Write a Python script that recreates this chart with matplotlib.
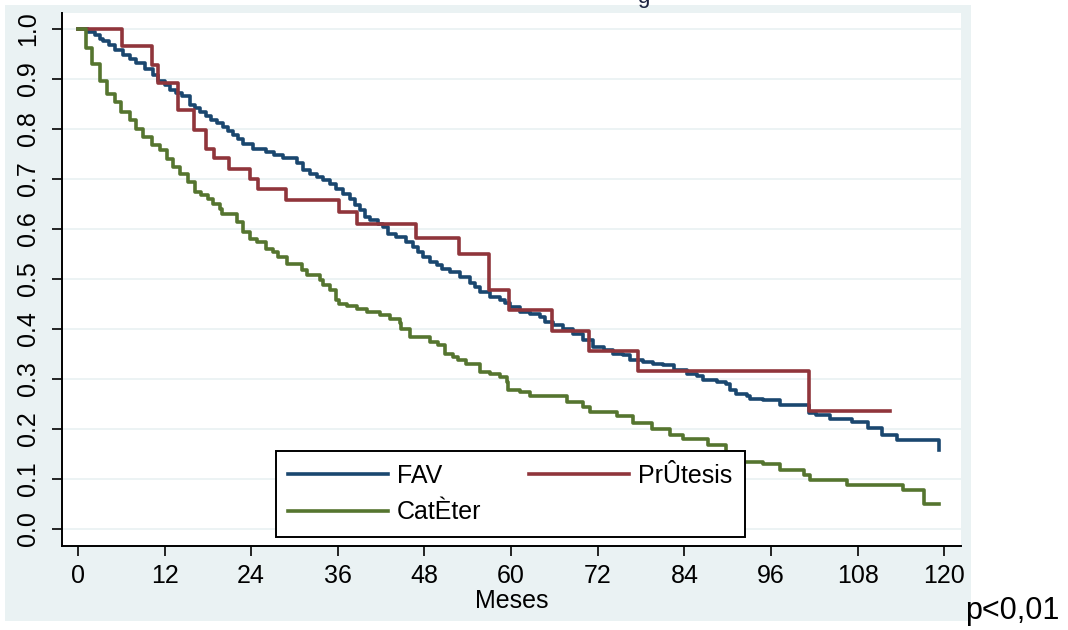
import numpy as np
import matplotlib
matplotlib.use("Agg")
import matplotlib.pyplot as plt
from matplotlib.patches import Rectangle

plt.rcParams['font.family'] = ['Liberation Sans', 'DejaVu Sans']

# Kaplan-Meier steps: (month, survival after the step)
fav_t = [0, 1.4, 2.4, 3.0, 3.5, 4.3, 5.1, 6.3, 7.2, 8.1, 9.3, 10.4, 11.1, 12.0, 12.7,
         13.6, 14.4, 15.5, 16.2, 16.9, 17.7, 18.5, 19.3, 20.1, 20.8, 21.5, 22.2, 22.9,
         24.3, 26.1, 27.2, 28.4, 30.4, 31.2, 32.2, 33.1, 34.0, 34.9, 35.8, 36.7, 37.7,
         38.4, 39.1, 39.8, 40.4, 41.6, 42.3, 43.0, 44.1, 45.5, 46.4, 47.1, 47.8, 48.8,
         49.7, 50.4, 51.5, 52.9, 54.3, 55.0, 55.7, 57.1, 58.4, 59.1, 59.8, 61.2, 62.6,
         64.0, 64.7, 65.8, 67.2, 68.6, 70.0, 71.4, 72.8, 74.1, 75.5, 76.5, 78.3, 79.7,
         81.1, 82.5, 84.3, 85.7, 86.6, 88.5, 89.8, 90.3, 91.2, 92.6, 93.1, 94.9, 97.2,
         101.2, 102.2, 104.2, 107.2, 109.4, 111.3, 113.4, 119.3]
fav_s = [1.0, 0.995, 0.988, 0.981, 0.977, 0.968, 0.959, 0.948, 0.940, 0.933, 0.921, 0.908,
         0.897, 0.888, 0.878, 0.872, 0.866, 0.848, 0.842, 0.835, 0.826, 0.818, 0.812,
         0.805, 0.796, 0.788, 0.780, 0.771, 0.761, 0.755, 0.748, 0.743, 0.732, 0.718,
         0.711, 0.705, 0.698, 0.691, 0.681, 0.671, 0.661, 0.648, 0.638, 0.625, 0.618,
         0.611, 0.605, 0.591, 0.585, 0.575, 0.565, 0.555, 0.545, 0.535, 0.528, 0.521,
         0.515, 0.505, 0.493, 0.485, 0.475, 0.465, 0.458, 0.452, 0.445, 0.435, 0.431,
         0.425, 0.415, 0.408, 0.401, 0.391, 0.378, 0.365, 0.358, 0.351, 0.348, 0.338,
         0.335, 0.331, 0.328, 0.318, 0.311, 0.306, 0.298, 0.295, 0.291, 0.278, 0.271,
         0.266, 0.261, 0.258, 0.248, 0.233, 0.228, 0.221, 0.215, 0.203, 0.188, 0.178,
         0.158]

pro_t = [0, 6.1, 10.2, 11.1, 13.8, 16.1, 17.8, 18.8, 20.9, 23.9, 24.9, 28.8, 36.1, 38.7,
         46.8, 52.8, 57.0, 59.7, 65.7, 70.8, 77.5, 101.3, 112.4]
pro_s = [1.0, 0.967, 0.929, 0.893, 0.838, 0.798, 0.761, 0.743, 0.721, 0.701, 0.681, 0.658,
         0.635, 0.611, 0.583, 0.551, 0.478, 0.438, 0.397, 0.357, 0.317, 0.237, 0.237]

cat_t = [0, 1.1, 2.0, 3.05, 4.1, 5.1, 6.0, 7.2, 8.1, 9.0, 10.2, 11.4, 12.3, 13.2, 14.1,
         15.3, 16.2, 17.1, 18.0, 18.7, 19.7, 19.9, 22.0, 22.9, 23.8, 24.8, 26.1, 27.0,
         27.7, 28.9, 31.0, 31.7, 33.5, 34.0, 34.9, 35.8, 36.1, 37.2, 38.6, 40.0, 41.8,
         43.2, 44.6, 44.8, 46.0, 48.8, 49.9, 50.8, 52.0, 52.7, 53.8, 55.7, 57.1, 58.4,
         59.4, 59.6, 61.2, 62.6, 67.7, 70.0, 70.9, 74.6, 76.9, 79.5, 82.0, 83.8, 87.3,
         89.8, 92.1, 94.9, 97.2, 100.5, 101.4, 106.5, 114.3, 117.2, 119.2]
cat_s = [1.0, 0.963, 0.931, 0.896, 0.871, 0.855, 0.835, 0.818, 0.801, 0.785, 0.768, 0.758,
         0.741, 0.725, 0.711, 0.695, 0.675, 0.668, 0.661, 0.651, 0.641, 0.631, 0.615,
         0.595, 0.581, 0.575, 0.561, 0.555, 0.545, 0.531, 0.518, 0.508, 0.498, 0.488,
         0.478, 0.458, 0.451, 0.446, 0.441, 0.435, 0.428, 0.421, 0.412, 0.401, 0.385,
         0.375, 0.368, 0.351, 0.345, 0.338, 0.331, 0.315, 0.311, 0.305, 0.295, 0.278,
         0.275, 0.266, 0.255, 0.245, 0.235, 0.226, 0.212, 0.200, 0.188, 0.181, 0.169,
         0.155, 0.135, 0.130, 0.118, 0.108, 0.099, 0.088, 0.079, 0.051, 0.051]

labels = ["FAV", "PrÛtesis", "CatÈter"]
x_ticks = list(range(0, 121, 12))
y_ticks = [i / 10 for i in range(11)]

navy = "#1A476F"
maroon = "#90353B"
green = "#55752F"
bg = "#EAF2F3"
fs = 18

fig = plt.figure(figsize=(10.68, 6.30), dpi=100, facecolor="white")
fig.patches.append(Rectangle((5 / 1068, 9 / 630), 966 / 1068, 616 / 630,
                             transform=fig.transFigure, facecolor=bg,
                             edgecolor="none", zorder=-5))

ax = fig.add_axes([62 / 1068, 84 / 630, 899 / 1068, 533 / 630])
ax.set_zorder(2)
ax.set_facecolor("white")

for yv in y_ticks:
    ax.axhline(yv, color=bg, lw=1.3, zorder=1)

l_fav, = ax.step(fav_t, fav_s, where="post", color=navy, lw=2.6, zorder=3)
l_pro, = ax.step(pro_t, pro_s, where="post", color=maroon, lw=2.6, zorder=3)
l_cat, = ax.step(cat_t, cat_s, where="post", color=green, lw=2.6, zorder=3)

ax.set_xlim(-2.2, 122.3)
ax.set_ylim(-0.034, 1.032)
ax.set_xticks(x_ticks)
ax.set_xticklabels([str(x) for x in x_ticks], fontsize=fs)
ax.set_yticks(y_ticks)
ax.set_yticklabels([f"{y:.1f}" for y in y_ticks], fontsize=fs, rotation=90, va="center")
ax.tick_params(axis="x", length=7, width=1.2, pad=6)
ax.tick_params(axis="y", length=7, width=1.2, pad=9)
for s in ["top", "right"]:
    ax.spines[s].set_visible(False)
for s in ["left", "bottom"]:
    ax.spines[s].set_linewidth(1.4)
ax.set_xlabel("Meses", fontsize=fs, labelpad=1)

leg = ax.legend([l_fav, l_cat, l_pro], [labels[0], labels[2], labels[1]], ncol=2,
                loc="lower left", bbox_to_anchor=(0.238, 0.017), borderaxespad=0,
                fontsize=fs, frameon=True, fancybox=False, handlelength=4.0,
                handletextpad=0.35, columnspacing=1.9, labelspacing=0.5,
                borderpad=0.5)
leg.get_frame().set_edgecolor("black")
leg.get_frame().set_linewidth(1.4)
leg.get_frame().set_alpha(1)
leg.set_zorder(5)

fig.text(643 / 1068, 0.995, "g", ha="center", va="baseline", fontsize=16, color="#1c2340")
fig.text(965 / 1068, 19 / 630, "p<0,01", ha="left", va="center", fontsize=22)

fig.savefig("out.png", dpi=100, facecolor="white")
